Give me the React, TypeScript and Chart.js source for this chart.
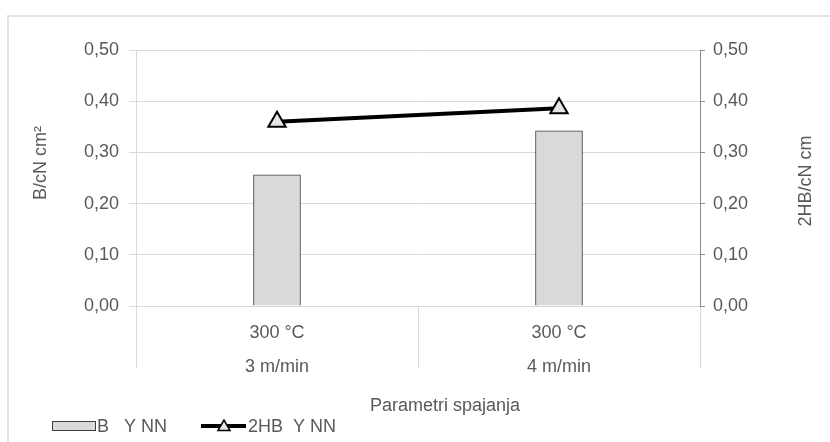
import React, { useEffect, useRef } from "react";
import { Chart, registerables } from "chart.js";

Chart.register(...registerables);

const categories: string[][] = [
  ["300 °C", "3 m/min"],
  ["300 °C", "4 m/min"],
];
const barValues: number[] = [0.256, 0.342];
const lineValues: number[] = [0.36, 0.386];
const barLabel = "B   Y NN";
const lineLabel = "2HB  Y NN";
const leftTitle = "B/cN cm²";
const rightTitle = "2HB/cN cm";
const xTitle = "Parametri spajanja";

const FONT = "'Liberation Sans', Arial, sans-serif";
const TEXT = "#595959";

const fmt = (v: number | string) => Number(v).toFixed(2).replace(".", ",");

const extrasPlugin = {
  id: "extras",
  afterDraw(chart: any) {
    const ctx = chart.ctx as CanvasRenderingContext2D;
    ctx.save();
    ctx.fillStyle = TEXT;
    ctx.font = `18px ${FONT}`;
    ctx.textAlign = "center";
    ctx.textBaseline = "middle";
    // left title
    ctx.save();
    ctx.translate(41, 163);
    ctx.rotate(-Math.PI / 2);
    ctx.fillText(leftTitle, 0, 0);
    ctx.restore();
    // right title
    ctx.save();
    ctx.translate(806, 181);
    ctx.rotate(-Math.PI / 2);
    ctx.fillText(rightTitle, 0, 0);
    ctx.restore();
    // x title
    ctx.fillText(xTitle, 445, 406);

    // legend
    ctx.textAlign = "left";
    ctx.fillStyle = "#d9d9d9";
    ctx.fillRect(52.5, 421.5, 43, 9);
    ctx.strokeStyle = "#404040";
    ctx.lineWidth = 1;
    ctx.strokeRect(52.5, 421.5, 43, 9);
    ctx.fillStyle = TEXT;
    ctx.fillText(barLabel, 97, 427);

    ctx.strokeStyle = "#000";
    ctx.lineWidth = 4;
    ctx.beginPath();
    ctx.moveTo(201, 426);
    ctx.lineTo(246, 426);
    ctx.stroke();
    const cx = 224, cy = 427, r = 7;
    ctx.beginPath();
    ctx.moveTo(cx, cy - r);
    ctx.lineTo(cx + r * 0.866, cy + r / 2);
    ctx.lineTo(cx - r * 0.866, cy + r / 2);
    ctx.closePath();
    ctx.fillStyle = "#e6e6e6";
    ctx.fill();
    ctx.lineWidth = 1.5;
    ctx.stroke();
    ctx.fillStyle = TEXT;
    ctx.fillText(lineLabel, 248, 427);
    ctx.restore();
  },
};

export default function App() {
  const ref = useRef<HTMLCanvasElement>(null);
  useEffect(() => {
    if (!ref.current) return;
    const chart = new Chart(ref.current, {
      type: "bar",
      data: {
        labels: categories as any,
        datasets: [
          {
            type: "line",
            label: lineLabel,
            data: lineValues,
            yAxisID: "y2",
            borderColor: "#000",
            borderWidth: 4,
            pointStyle: "triangle",
            pointRadius: 10,
            pointBorderWidth: 2,
            pointBorderColor: "#000",
            pointBackgroundColor: "#e6e6e6",
            tension: 0,
            order: 0,
          } as any,
          {
            type: "bar",
            label: barLabel,
            data: barValues,
            yAxisID: "y",
            backgroundColor: "#d9d9d9",
            borderColor: "#404040",
            borderWidth: 1,
            barThickness: 47,
            order: 1,
          } as any,
        ],
      },
      options: {
        animation: false,
        responsive: false,
        layout: { padding: { top: 50, left: 0, right: 0, bottom: 0 } },
        plugins: {
          legend: { display: false },
          tooltip: { enabled: false },
        },
        scales: {
          x: {
            type: "category",
            offset: true,
            grid: {
              offset: true,
              drawOnChartArea: false,
              color: "#d9d9d9",
              tickLength: 62,
            },
            border: { display: true, color: "#d9d9d9" },
            ticks: {
              color: TEXT,
              font: { family: FONT, size: 18, lineHeight: 34 / 18 },
              padding: -52,
              maxRotation: 0,
              autoSkip: false,
            },
            afterFit: (s: any) => {
              s.height = 136;
            },
          },
          y: {
            position: "left",
            min: 0,
            max: 0.5,
            ticks: {
              stepSize: 0.1,
              color: TEXT,
              font: { family: FONT, size: 18 },
              padding: 10,
              callback: (v: any) => fmt(v),
            },
            grid: { color: "#d9d9d9", tickLength: 7 },
            border: { display: true, color: "#d9d9d9" },
            afterFit: (s: any) => {
              s.width = 136;
            },
          },
          y2: {
            position: "right",
            min: 0,
            max: 0.5,
            ticks: {
              stepSize: 0.1,
              color: TEXT,
              font: { family: FONT, size: 18 },
              padding: 8,
              callback: (v: any) => fmt(v),
            },
            grid: { drawOnChartArea: false, color: "#8c8c8c", tickLength: 5 },
            border: { display: true, color: "#8c8c8c" },
            afterFit: (s: any) => {
              s.width = 130;
            },
          },
        },
      },
      plugins: [extrasPlugin],
    });
    return () => chart.destroy();
  }, []);
  return (
    <div>
      <div
        style={{
          position: "absolute",
          left: 7,
          top: 15,
          width: 840,
          height: 440,
          border: "2px solid #e3e3e3",
        }}
      />
      <canvas
        ref={ref}
        width={830}
        height={442}
        style={{ position: "absolute", left: 0, top: 0, width: 830, height: 442 }}
      />
    </div>
  );
}
